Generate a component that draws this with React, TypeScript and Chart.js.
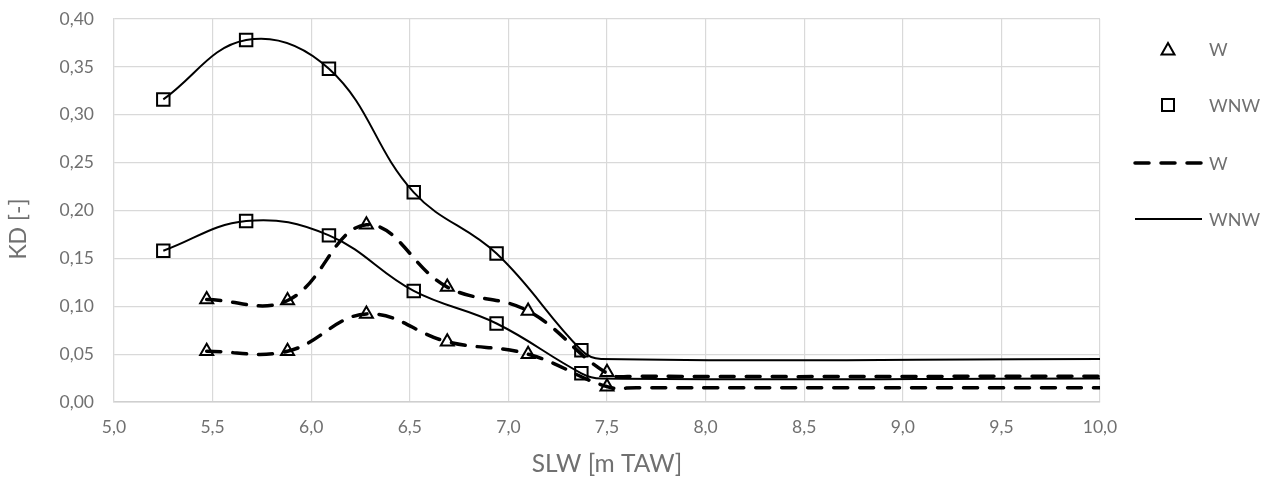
import React, { useEffect, useRef } from "react";
import { Chart, registerables } from "chart.js";

Chart.register(...registerables);

// Marker data (triangles = W, squares = WNW)
const wX = [5.47, 5.88, 6.28, 6.69, 7.1, 7.5];
const wUpperY = [0.107, 0.106, 0.185, 0.12, 0.095, 0.031];
const wLowerY = [0.053, 0.053, 0.092, 0.063, 0.05, 0.016];
const wnwX = [5.25, 5.67, 6.09, 6.52, 6.94, 7.37];
const wnwUpperY = [0.316, 0.378, 0.348, 0.219, 0.155, 0.054];
const wnwLowerY = [0.158, 0.189, 0.174, 0.116, 0.082, 0.03];

// Smoothed curves (dashed = W, solid = WNW)
const wLineX = [5.47, 5.88, 6.28, 6.69, 7.1, 7.5, 7.65, 10.0];
const wLineUpperY = [0.107, 0.106, 0.185, 0.12, 0.095, 0.03, 0.027, 0.027];
const wLineLowerY = [0.053, 0.053, 0.092, 0.063, 0.05, 0.016, 0.015, 0.015];
const wnwLineX = [5.25, 5.67, 6.09, 6.52, 6.94, 7.37, 7.47, 10.0];
const wnwLineUpperY = [0.316, 0.378, 0.348, 0.219, 0.155, 0.054, 0.045, 0.045];
const wnwLineLowerY = [0.158, 0.189, 0.174, 0.116, 0.082, 0.03, 0.0245, 0.0245];

const xTicks = [5.0, 5.5, 6.0, 6.5, 7.0, 7.5, 8.0, 8.5, 9.0, 9.5, 10.0];
const yTicks = [0, 0.05, 0.1, 0.15, 0.2, 0.25, 0.3, 0.35, 0.4];

const seriesLabels = ["W", "WNW", "W", "WNW"];
const xTitle = "SLW [m TAW]";
const yTitle = "KD [-]";

const FONT = "Lato, 'Open Sans', 'DejaVu Sans', sans-serif";
const TEXT = "#707070";

const pts = (xs: number[], ys: number[]) => xs.map((x, i) => ({ x, y: ys[i] }));
const withGap = (xs: number[], a: number[], b: number[]) => [
  ...pts(xs, a),
  { x: 10, y: null as any },
  ...pts(xs, b),
];

const legendPlugin = {
  id: "sideLegend",
  afterDraw(chart: any) {
    const ctx = chart.ctx as CanvasRenderingContext2D;
    const ds = chart.data.datasets;
    const ys = [49, 105, 163, 219];
    ctx.save();
    ds.forEach((d: any, i: number) => {
      const y = ys[i];
      ctx.strokeStyle = "#000";
      ctx.setLineDash([]);
      if (d.showLine === false) {
        const cx = 1168;
        ctx.lineWidth = 2;
        ctx.beginPath();
        if (d.pointStyle === "triangle") {
          ctx.moveTo(cx, y - 6);
          ctx.lineTo(cx + 6.5, y + 5.5);
          ctx.lineTo(cx - 6.5, y + 5.5);
          ctx.closePath();
        } else {
          ctx.rect(cx - 6, y - 6, 12, 12);
        }
        ctx.stroke();
      } else {
        ctx.lineWidth = d.borderWidth;
        ctx.lineCap = d.borderCapStyle || "butt";
        ctx.setLineDash(d.borderDash || []);
        ctx.beginPath();
        ctx.moveTo(1135, y);
        ctx.lineTo(1202, y);
        ctx.stroke();
      }
      ctx.setLineDash([]);
      ctx.fillStyle = TEXT;
      ctx.font = `18px ${FONT}`;
      ctx.textBaseline = "middle";
      ctx.textAlign = "left";
      ctx.fillText(d.label, 1209, y + 1);
    });
    // y-axis title
    ctx.translate(19, 229);
    ctx.rotate(-Math.PI / 2);
    ctx.font = `23px ${FONT}`;
    ctx.textAlign = "center";
    ctx.textBaseline = "middle";
    ctx.fillText(yTitle, 0, 0);
    ctx.restore();
  },
};

const zeroPad = (s: any) => {
  s.paddingTop = 0;
  s.paddingBottom = 0;
  s.paddingLeft = 0;
  s.paddingRight = 0;
};

export default function App() {
  const ref = useRef<HTMLCanvasElement | null>(null);
  useEffect(() => {
    if (!ref.current) return;
    const chart = new Chart(ref.current, {
      type: "scatter",
      data: {
        datasets: [
          {
            label: seriesLabels[0],
            data: [...pts(wX, wUpperY), ...pts(wX, wLowerY)],
            showLine: false,
            pointStyle: "triangle",
            pointRadius: 7.5,
            pointBorderWidth: 2,
            pointBackgroundColor: "rgba(0,0,0,0)",
            pointBorderColor: "#000",
          },
          {
            label: seriesLabels[1],
            data: [...pts(wnwX, wnwUpperY), ...pts(wnwX, wnwLowerY)],
            showLine: false,
            pointStyle: "rect",
            pointRadius: 8.8,
            pointBorderWidth: 2,
            pointBackgroundColor: "rgba(0,0,0,0)",
            pointBorderColor: "#000",
          },
          {
            label: seriesLabels[2],
            data: withGap(wLineX, wLineUpperY, wLineLowerY),
            showLine: true,
            spanGaps: false,
            borderColor: "#000",
            borderWidth: 3.5,
            borderDash: [14, 12],
            borderCapStyle: "round",
            tension: 0.4,
            pointRadius: 0,
            pointHoverRadius: 0,
          },
          {
            label: seriesLabels[3],
            data: withGap(wnwLineX, wnwLineUpperY, wnwLineLowerY),
            showLine: true,
            spanGaps: false,
            borderColor: "#000",
            borderWidth: 2,
            tension: 0.4,
            pointRadius: 0,
            pointHoverRadius: 0,
          },
        ],
      },
      options: {
        animation: false,
        responsive: true,
        maintainAspectRatio: false,
        layout: { padding: { left: 0, top: 19, right: 172, bottom: 0 } },
        plugins: {
          legend: { display: false },
          tooltip: { enabled: false },
        },
        scales: {
          x: {
            type: "linear",
            min: 5,
            max: 10,
            afterBuildTicks: (s: any) => {
              s.ticks = xTicks.map((v) => ({ value: v }));
            },
            afterFit: (s: any) => {
              s.height = 77;
              zeroPad(s);
            },
            ticks: {
              padding: 15,
              color: TEXT,
              font: { family: FONT, size: 17.5 },
              callback: (v: any) => Number(v).toFixed(1).replace(".", ","),
            },
            grid: { color: "#d9d9d9", lineWidth: 1.2, drawTicks: false },
            border: { color: "#cfcfcf", width: 1.5 },
            title: {
              display: true,
              text: xTitle,
              color: TEXT,
              font: { family: FONT, size: 24.5 },
              padding: { top: 0, bottom: 0 },
            },
          },
          y: {
            type: "linear",
            min: 0,
            max: 0.4,
            afterBuildTicks: (s: any) => {
              s.ticks = yTicks.map((v) => ({ value: v }));
            },
            afterFit: (s: any) => {
              s.width = 114;
              zeroPad(s);
            },
            ticks: {
              padding: 20,
              color: TEXT,
              font: { family: FONT, size: 17.5 },
              callback: (v: any) => Number(v).toFixed(2).replace(".", ","),
            },
            grid: { color: "#d9d9d9", lineWidth: 1.2, drawTicks: false },
            border: { color: "#d9d9d9", width: 1.2 },
            title: { display: false },
          },
        },
      },
      plugins: [legendPlugin],
    });
    return () => chart.destroy();
  }, []);
  return (
    <div style={{ position: "fixed", left: 0, top: 0, width: 1272, height: 479, background: "#fff" }}>
      <canvas ref={ref} />
    </div>
  );
}
